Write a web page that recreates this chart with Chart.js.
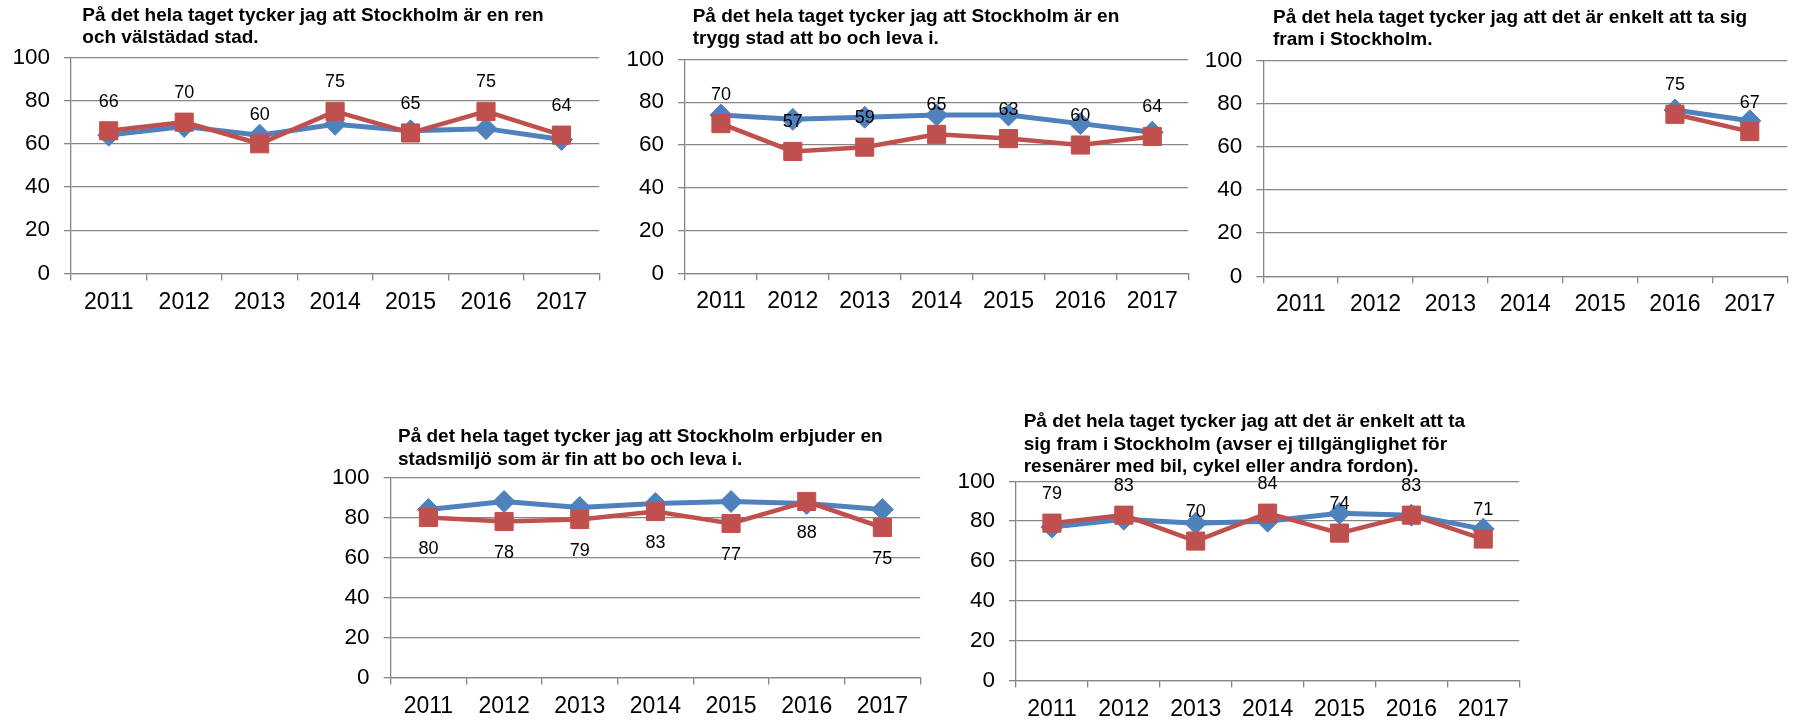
<!DOCTYPE html>
<html>
<head>
<meta charset="utf-8">
<script src="https://cdn.jsdelivr.net/npm/chart.js@4.4.1/dist/chart.umd.min.js"></script>
<style>
html,body{margin:0;padding:0;background:#fff;width:1801px;height:722px;overflow:hidden;position:relative}
canvas{position:absolute;display:block}
</style>
</head>
<body>
<script>
// ---- data ----
const years = ['2011','2012','2013','2014','2015','2016','2017'];
const yTicks = [0, 20, 40, 60, 80, 100];

const title1 = ['På det hela taget tycker jag att Stockholm är en ren', 'och välstädad stad.'];
const blue1 = [64, 68, 64, 69, 66, 67, 62];
const red1  = [66, 70, 60, 75, 65, 75, 64];

const title2 = ['På det hela taget tycker jag att Stockholm är en', 'trygg stad att bo och leva i.'];
const blue2 = [74, 72, 73, 74, 74, 70, 66];
const red2  = [70, 57, 59, 65, 63, 60, 64];

const title3 = ['På det hela taget tycker jag att det är enkelt att ta sig', 'fram i Stockholm.'];
const blue3 = [null, null, null, null, null, 77, 72];
const red3  = [null, null, null, null, null, 75, 67];

const title4 = ['På det hela taget tycker jag att Stockholm erbjuder en', 'stadsmiljö som är fin att bo och leva i.'];
const blue4 = [84, 88, 85, 87, 88, 87, 84];
const red4  = [80, 78, 79, 83, 77, 88, 75];

const title5 = ['På det hela taget tycker jag att det är enkelt att ta', 'sig fram i Stockholm (avser ej tillgänglighet för', 'resenärer med bil, cykel eller andra fordon).'];
const blue5 = [77, 81, 79, 80, 84, 83, 76];
const red5  = [79, 83, 70, 84, 74, 83, 71];

// ---- layout (page coordinates of plot areas / titles) ----
const panels = [
  {title: title1, blue: blue1, red: red1, L: 71,     T: 57.3,  R: 602.7,  B: 273.5, tx: 82.3,   ty: [16, 38],            lab: -29},
  {title: title2, blue: blue2, red: red2, L: 685,    T: 59.5,  R: 1191.7, B: 273.3, tx: 692.7,  ty: [16.7, 38.7],        lab: -29},
  {title: title3, blue: blue3, red: red3, L: 1263.3, T: 60.3,  R: 1791,   B: 276.3, tx: 1273,   ty: [17.3, 39.3],        lab: -29},
  {title: title4, blue: blue4, red: red4, L: 390.6,  T: 477.5, R: 923.3,  B: 677.5, tx: 398,    ty: [436.7, 460],        lab: 32},
  {title: title5, blue: blue5, red: red5, L: 1016,   T: 481.3, R: 1523,   B: 680.5, tx: 1023.7, ty: [421.7, 445, 467],   lab: -29}
];

const FONT = "'Liberation Sans', Arial, Helvetica, sans-serif";
Chart.defaults.font.family = FONT;
const GRID = '#868686';
const BLUE = '#4F81BD';
const RED = '#C0504D';
const YW = 70, XH = 45;

panels.forEach(p => {
  const cx = Math.floor(p.L - YW);
  const cy = Math.floor(p.T - 80);
  const cw = Math.ceil(p.R + 10) - cx;
  const ch = Math.ceil(p.B + XH) - cy;
  const canvas = document.createElement('canvas');
  canvas.width = cw; canvas.height = ch;
  canvas.style.left = cx + 'px'; canvas.style.top = cy + 'px';
  canvas.style.width = cw + 'px'; canvas.style.height = ch + 'px';
  document.body.appendChild(canvas);

  const titlePlugin = {
    id: 'panelTitle',
    afterDraw(chart) {
      const ctx = chart.ctx;
      ctx.save();
      ctx.font = 'bold 19px ' + FONT;
      ctx.fillStyle = '#000';
      ctx.textAlign = 'left';
      ctx.textBaseline = 'middle';
      p.title.forEach((line, i) => ctx.fillText(line, p.tx - cx, p.ty[i] - cy));
      ctx.restore();
    }
  };
  const labelPlugin = {
    id: 'valueLabels',
    afterDatasetsDraw(chart) {
      const ctx = chart.ctx;
      const meta = chart.getDatasetMeta(1);
      const data = chart.data.datasets[1].data;
      ctx.save();
      ctx.font = '18px ' + FONT;
      ctx.fillStyle = '#000';
      ctx.textAlign = 'center';
      ctx.textBaseline = 'middle';
      meta.data.forEach((pt, i) => {
        if (data[i] == null) return;
        ctx.fillText(String(data[i]), pt.x, pt.y + p.lab);
      });
      ctx.restore();
    }
  };

  new Chart(canvas, {
    type: 'line',
    data: {
      labels: years,
      datasets: [
        {label: 'A', data: p.blue, borderColor: BLUE, backgroundColor: BLUE, borderWidth: 5,
         pointStyle: 'rectRot', pointRadius: 11, pointHoverRadius: 11, pointBorderWidth: 1,
         pointBorderColor: BLUE, pointBackgroundColor: BLUE, tension: 0, order: 1, spanGaps: false},
        {label: 'B', data: p.red, borderColor: RED, backgroundColor: RED, borderWidth: 4.5,
         pointStyle: 'rect', pointRadius: 12.8, pointHoverRadius: 12.8, pointBorderWidth: 1,
         pointBorderColor: RED, pointBackgroundColor: RED, tension: 0, order: 0, spanGaps: false}
      ]
    },
    options: {
      responsive: false,
      animation: false,
      devicePixelRatio: 1,
      events: [],
      layout: {padding: {left: (p.L - YW) - cx, top: p.T - cy, right: cx + cw - p.R, bottom: cy + ch - p.B - XH}},
      plugins: {legend: {display: false}, tooltip: {enabled: false}, title: {display: false}},
      scales: {
        x: {
          type: 'category', offset: true,
          grid: {display: true, drawOnChartArea: false, drawTicks: true, tickLength: 7, offset: true, color: GRID, lineWidth: 1.3},
          border: {display: true, color: GRID, width: 1.3},
          ticks: {font: {size: 23}, color: '#000', padding: 8, maxRotation: 0, autoSkip: false},
          afterFit(s) { s.height = XH; }
        },
        y: {
          min: 0, max: 100,
          afterBuildTicks(s) { s.ticks = yTicks.map(v => ({value: v})); },
          ticks: {font: {size: 22.5}, color: '#000', padding: 14},
          grid: {color: GRID, lineWidth: 1.3, tickLength: 7, drawTicks: true},
          border: {display: true, color: GRID, width: 1.3},
          afterFit(s) { s.width = YW; }
        }
      }
    },
    plugins: [labelPlugin, titlePlugin]
  });
});
</script>
</body>
</html>
